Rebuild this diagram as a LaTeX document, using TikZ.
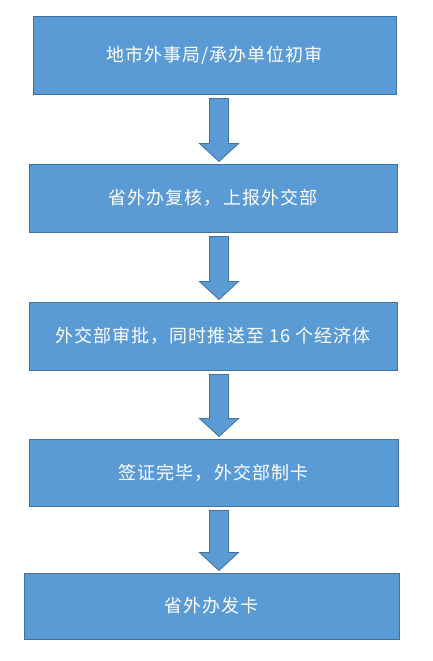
\documentclass[tikz,border=0pt]{standalone}
\usepackage{fontspec}
\newfontfamily\cjk[LetterSpace=6]{Noto Sans CJK SC}
\usepackage{xcolor}
\usepackage{tikz}
\usetikzlibrary{calc}

\definecolor{cajaazul}{HTML}{5B9BD5}
\definecolor{bordeazul}{HTML}{41719C}

\tikzset{
  paso/.style={draw=bordeazul, line width=1pt, fill=cajaazul, text=white,
    inner sep=0pt, font=\cjk\fontsize{18}{20}\selectfont},
  flecha/.style={draw=bordeazul, line width=0.8pt, fill=cajaazul, line join=miter}
}

% flecha gruesa entre dos pasos
\newcommand{\flechagruesa}[2]{%
  \draw[flecha] ($(#1.south -| ejeflecha)+(-9.5,4)$) -- ($(#1.south -| ejeflecha)+(9.5,4)$)
    -- ($(#2.north -| ejeflecha)+(9.5,-20)$) -- ($(#2.north -| ejeflecha)+(19.5,-20)$)
    -- ($(#2.north -| ejeflecha)+(0,-2)$) -- ($(#2.north -| ejeflecha)+(-19.5,-20)$)
    -- ($(#2.north -| ejeflecha)+(-9.5,-20)$) -- cycle;}

\begin{document}
\begin{tikzpicture}[x=1pt, y=-1pt]
\useasboundingbox (0,0) rectangle (433,661);
\coordinate (ejeflecha) at (219,0);

% Pasos
\node[paso, minimum width=363pt, minimum height=77pt] (p1) at (214.5,55.5) {地市外事局/承办单位初审};
\node[paso, minimum width=368pt, minimum height=68pt] (p2) at (213,198) {省外办复核，上报外交部};
\node[paso, minimum width=368pt, minimum height=68pt] (p3) at (213,336) {外交部审批，同时推送至 16 个经济体};
\node[paso, minimum width=369pt, minimum height=67pt] (p4) at (213.5,472.5) {签证完毕，外交部制卡};
\node[paso, minimum width=375pt, minimum height=66pt] (p5) at (211.5,606) {省外办发卡};

% Flechas
\flechagruesa{p1}{p2}
\flechagruesa{p2}{p3}
\flechagruesa{p3}{p4}
\flechagruesa{p4}{p5}

\end{tikzpicture}
\end{document}
